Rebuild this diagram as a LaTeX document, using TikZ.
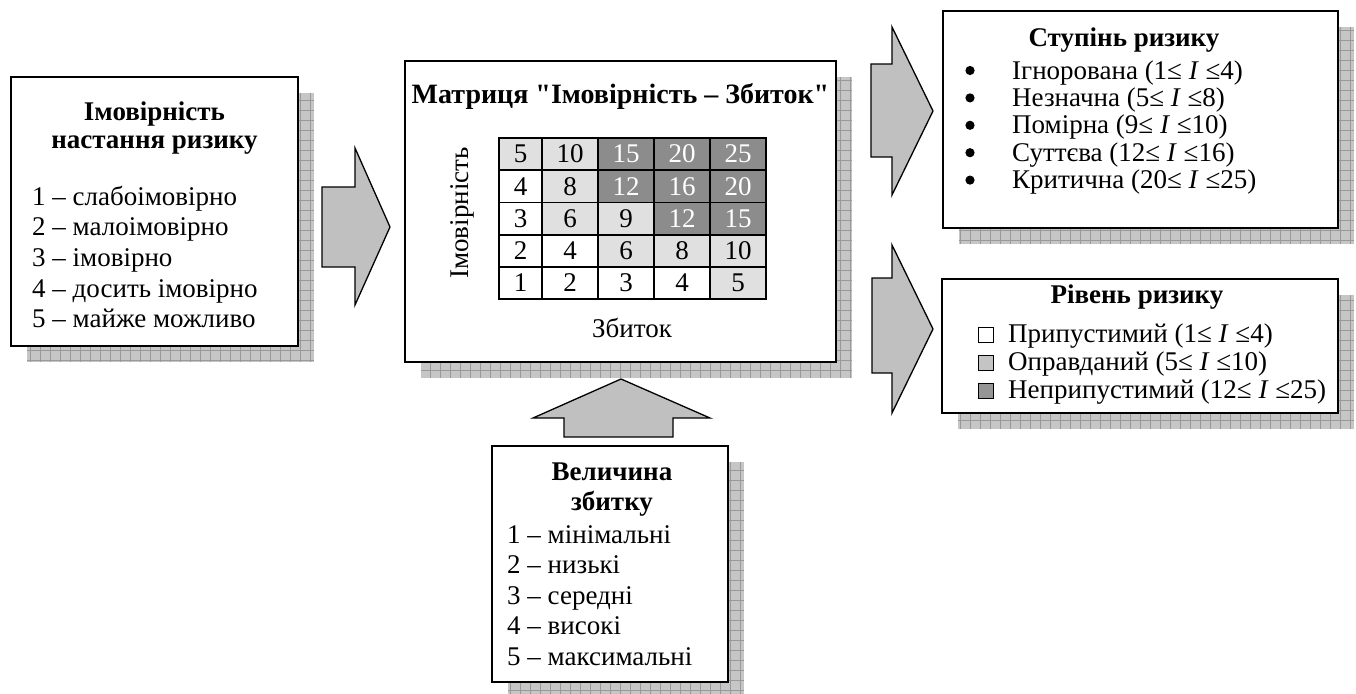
\documentclass[tikz,border=0pt]{standalone}
\usepackage{fontspec}
\setmainfont{Liberation Serif}[Ligatures=TeXOff]

\definecolor{cellW}{HTML}{FFFFFF}
\definecolor{cellL}{HTML}{E0E0E0}
\definecolor{cellD}{HTML}{8C8C8C}
\definecolor{arrowfill}{HTML}{C0C0C0}
\definecolor{shadefill}{HTML}{C6C6C6}
\definecolor{shadegrid}{HTML}{999999}
\definecolor{legendL}{HTML}{C4C4C4}
\definecolor{legendD}{HTML}{959595}

% grey hatched drop shadow behind a panel given by its corners
\newcommand\dropshade[4]{%
  \fill[shadefill] ({#1+16},{#2+16}) rectangle ({#3+16},{#4+16});
  \begin{scope}
    \clip ({#1+16},{#2+16}) rectangle ({#3+16},{#4+16});
    \draw[shadegrid, line width=0.6pt, step=10pt] ({#1+16},{#2+16}) grid ({#3+16},{#4+16});
  \end{scope}}

\tikzset{
  panel/.style={draw, fill=white, line width=1.8pt, inner sep=0pt},
  blockarrow/.style={draw, fill=arrowfill, line width=1.3pt, line join=miter},
  txt/.style={inner sep=0pt, anchor=base west},
  ttl/.style={inner sep=0pt, anchor=base, font=\fontsize{27}{30}\selectfont\bfseries},
  cell/.style={draw, line width=1.8pt, inner sep=0pt},
  cW/.style={fill=cellW},
  cL/.style={fill=cellL},
  cD/.style={fill=cellD, text=white},
  legendbox/.style={draw, line width=1.1pt, minimum size=15pt, inner sep=0pt},
}

\begin{document}
\begin{tikzpicture}[x=1pt, y=-1pt, font=\fontsize{27}{30}\selectfont]
\useasboundingbox (0,0) rectangle (1356,693);

% ---- shadows ----
\dropshade{11}{77}{298}{346}
\dropshade{405}{61}{836}{362}
\dropshade{943}{11}{1338}{228}
\dropshade{942}{279}{1338}{413}
\dropshade{492}{446}{728}{682}

% ---- panels ----
\node[panel, minimum width=287pt, minimum height=269pt] (prob) at (154.5,211.5) {};
\node[panel, minimum width=431pt, minimum height=301pt] (matrix) at (620.5,211.5) {};
\node[panel, minimum width=395pt, minimum height=217pt] (degree) at (1140.5,119.5) {};
\node[panel, minimum width=396pt, minimum height=134pt] (level) at (1140,346) {};
\node[panel, minimum width=236pt, minimum height=236pt] (loss) at (610,564) {};

% ---- block arrows ----
\draw[blockarrow] (322,187) -- (355,187) -- (355,148) -- (390,227) -- (355,305) -- (355,267) -- (322,267) -- cycle;
\draw[blockarrow] (871,64) -- (892,64) -- (892,27) -- (933,111) -- (892,195) -- (892,157) -- (871,157) -- cycle;
\draw[blockarrow] (872,278) -- (892,278) -- (892,245) -- (933,329) -- (892,413) -- (892,373) -- (872,373) -- cycle;
\draw[blockarrow] (564,437) -- (564,418) -- (533,418) -- (621,379) -- (710,418) -- (673,418) -- (673,437) -- cycle;

% ---- probability panel ----
\node[ttl] (probt1) at (154.5,120) {Імовірність};
\node[ttl] (probt2) at (154.5,148) {настання ризику};
\foreach \t [count=\k from 0] in {{1 – слабоімовірно},{2 – малоімовірно},{3 – імовірно},{4 – досить імовірно},{5 – майже можливо}}
  \node[txt] (prob\k) at (32,{205+30.7*\k}) {\t};

% ---- risk matrix ----
\node[ttl, font=\fontsize{28}{30}\selectfont\bfseries] (matt) at (620.5,103) {Матриця "Імовірність – Збиток"};
\node[inner sep=0pt, rotate=90, anchor=base] (maty) at (468,213) {Імовірність};
\node[inner sep=0pt, anchor=base] (matx) at (632,337) {Збиток};
\foreach \vals [count=\i from 0] in {{5/L,10/L,15/D,20/D,25/D},{4/W,8/L,12/D,16/D,20/D},{3/W,6/L,9/L,12/D,15/D},{2/W,4/W,6/L,8/L,10/L},{1/W,2/W,3/W,4/W,5/L}}{
  \foreach \v/\c [count=\j from 0] in \vals {
    \pgfmathsetmacro\xa{\j==0 ? 499 : 542+56*(\j-1)}
    \pgfmathsetmacro\xb{\j==0 ? 542 : 542+56*\j}
    \pgfmathsetmacro\cellw{\xb-\xa}
    \node[cell, c\c, minimum width=\cellw pt, minimum height=32.2pt]
      (m-\i-\j) at ({(\xa+\xb)/2},{138+32.2*\i+16.1}) {\v};
  }
}

% ---- degree of risk panel ----
\node[ttl] (degt) at (1124,47) {Ступінь ризику};
\foreach \t [count=\k from 0] in {{Ігнорована (1≤ \textit{I} ≤4)},{Незначна (5≤ \textit{I} ≤8)},{Помірна (9≤ \textit{I} ≤10)},{Суттєва (12≤ \textit{I} ≤16)},{Критична (20≤ \textit{I} ≤25)}}{
  \fill (970,{79+27.4*\k-8.5}) circle (4.6pt);
  \node[txt] (deg\k) at (1012,{79+27.4*\k}) {\t};
}

% ---- level of risk panel ----
\node[ttl] (levt) at (1137,303) {Рівень ризику};
\foreach \t/\c [count=\k from 0] in {{Припустимий (1≤ \textit{I} ≤4)}/white,{Оправданий (5≤ \textit{I} ≤10)}/legendL,{Неприпустимий (12≤ \textit{I} ≤25)}/legendD}{
  \node[legendbox, fill=\c] (sq\k) at (986,{342+28*\k-7}) {};
  \node[txt] (lev\k) at (1008,{342+28*\k}) {\t};
}

% ---- loss magnitude panel ----
\node[ttl] (losst1) at (612,480) {Величина};
\node[ttl] (losst2) at (612,510) {збитку};
\foreach \t [count=\k from 0] in {{1 – мінімальні},{2 – низькі},{3 – середні},{4 – високі},{5 – максимальні}}
  \node[txt] (loss\k) at (507,{543+30.5*\k}) {\t};

\end{tikzpicture}
\end{document}
